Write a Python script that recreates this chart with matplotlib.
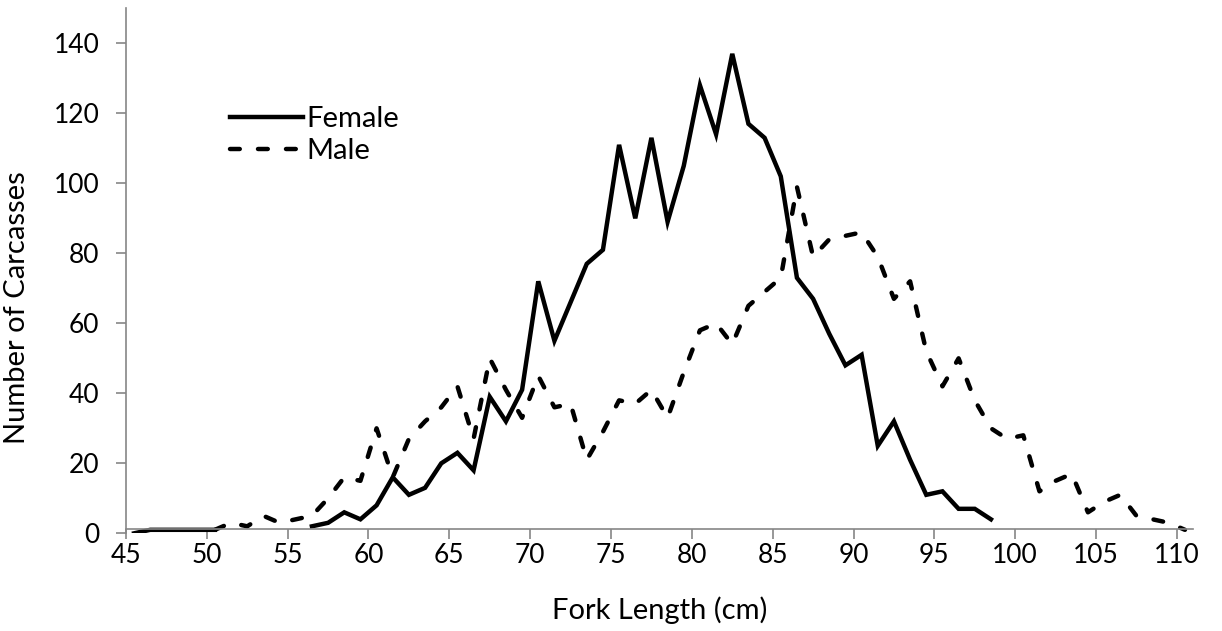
import numpy as np
import matplotlib
matplotlib.use("Agg")
import matplotlib.pyplot as plt

nan = np.nan

# fork length classes (cm), one per 1 cm bin
lengths = np.arange(45.5, 111.0, 1.0)

female = [0, 1, 1, 1, 1, 1, nan, nan, nan, nan, nan,
          2, 3, 6, 4, 8, 16, 11, 13, 20, 23, 18, 39, 32, 41, 72, 55, 66, 77, 81,
          111, 90, 113, 89, 105, 128, 114, 137, 117, 113, 102, 73, 67, 57, 48, 51,
          25, 32, 21, 11, 12, 7, 7, 4,
          nan, nan, nan, nan, nan, nan, nan, nan, nan, nan, nan, nan]

male = [nan, nan, nan, nan, nan, 1, 3, 2, 5, 3, 4,
        5, 10, 16, 15, 30, 16, 27, 32, 36, 42, 27, 50, 41, 33, 45, 36, 37, 21, 29,
        38, 37, 41, 33, 46, 58, 60, 54, 65, 69, 73, 99, 79, 84, 85, 86,
        79, 67, 72, 52, 42, 50, 38, 30, 27, 28, 12, 15, 17, 6, 9, 11, 5, 4, 3, 1]

plt.rcParams['font.family'] = ['Lato', 'DejaVu Sans']

fig = plt.figure(figsize=(12.22, 6.31), dpi=100)
ax = fig.add_axes([0.1031, 0.1548, 0.9763 - 0.1031, 0.9868 - 0.1548])

ax.plot(lengths, female, color='black', lw=3.2, solid_joinstyle='miter', label='Female')
ax.plot(lengths, male, color='black', lw=3.2, dashes=(2.2, 4.1),
        dash_capstyle='round', label='Male')

ax.set_xlim(45, 111)
ax.set_ylim(0, 150)
ax.set_xticks(range(45, 111, 5))
ax.set_yticks(range(0, 141, 20))

for s in ['top', 'right']:
    ax.spines[s].set_visible(False)
for s in ['left', 'bottom']:
    ax.spines[s].set_color('#868686')
    ax.spines[s].set_linewidth(1.2)
ax.spines['bottom'].set_position(('data', 1.3))
ax.tick_params(axis='both', direction='out', length=7, width=1.2, color='#868686',
               labelsize=19, labelcolor='black')
ax.tick_params(axis='y', pad=12)

ax.set_xlabel('Fork Length (cm)', fontsize=21, labelpad=20)
ax.set_ylabel('Number of Carcasses', fontsize=21)
ax.yaxis.set_label_coords(-0.09, 0.43)

ax.legend(loc='center left', bbox_to_anchor=(0.0975, 0.7587), frameon=False,
          fontsize=21, handlelength=2.5, handletextpad=0.13, borderpad=0,
          borderaxespad=0, labelspacing=0.2)

fig.savefig('out.png', dpi=100)
